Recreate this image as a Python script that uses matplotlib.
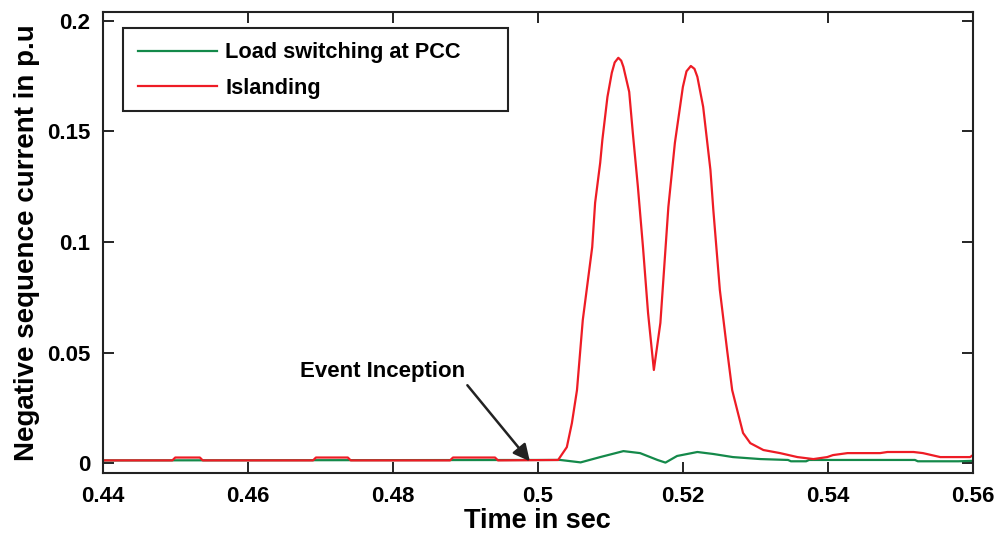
import numpy as np
import matplotlib
matplotlib.use('Agg')
import matplotlib.pyplot as plt
from matplotlib.patches import Rectangle

# data
t_island = [0.4400, 0.4496, 0.4500, 0.4534, 0.4538, 0.4690, 0.4694, 0.4738, 0.4742,
            0.4879, 0.4883, 0.4941, 0.4945, 0.5028, 0.5040, 0.5047, 0.5054, 0.5062,
            0.5075, 0.5079, 0.5086, 0.5089, 0.5096, 0.5102, 0.5106, 0.5111, 0.5115,
            0.5118, 0.5126, 0.5131, 0.5138, 0.5145, 0.5152, 0.5160, 0.5169, 0.5180,
            0.5189, 0.5200, 0.5205, 0.5211, 0.5216, 0.5220, 0.5228, 0.5238, 0.5242,
            0.5251, 0.5261, 0.5268, 0.5276, 0.5283, 0.5293, 0.5311, 0.5334, 0.5358,
            0.5380, 0.5399, 0.5407, 0.5427, 0.5472, 0.5482, 0.5518, 0.5531, 0.5555,
            0.5596, 0.5600]
i_island = [0.0012, 0.0012, 0.0025, 0.0025, 0.0012, 0.0012, 0.0025, 0.0025, 0.0012,
            0.0012, 0.0025, 0.0025, 0.0012, 0.0014, 0.0072, 0.0181, 0.0330, 0.0647,
            0.0977, 0.1177, 0.1358, 0.1462, 0.1656, 0.1765, 0.1812, 0.1833, 0.1820,
            0.1792, 0.1679, 0.1493, 0.1249, 0.0977, 0.0679, 0.0421, 0.0634, 0.1158,
            0.1448, 0.1701, 0.1772, 0.1796, 0.1783, 0.1747, 0.1611, 0.1326, 0.1145,
            0.0783, 0.0511, 0.0330, 0.0226, 0.0136, 0.0090, 0.0059, 0.0045, 0.0027,
            0.0018, 0.0027, 0.0036, 0.0045, 0.0045, 0.0050, 0.0050, 0.0045, 0.0027,
            0.0027, 0.0036]

t_load = [0.4400, 0.5031, 0.5059, 0.5086, 0.5118, 0.5141, 0.5165, 0.5176, 0.5192,
          0.5220, 0.5242, 0.5269, 0.5307, 0.5345, 0.5349, 0.5370, 0.5374, 0.5520,
          0.5524, 0.5580, 0.5600]
i_load = [0.0012, 0.0014, 0.0003, 0.0027, 0.0054, 0.0045, 0.0014, 0.0002, 0.0032,
          0.0050, 0.0041, 0.0027, 0.0018, 0.0014, 0.0008, 0.0008, 0.0014, 0.0014,
          0.0008, 0.0008, 0.0010]

xticks = [0.44, 0.46, 0.48, 0.5, 0.52, 0.54, 0.56]
xlabels = ['0.44', '0.46', '0.48', '0.5', '0.52', '0.54', '0.56']
yticks = [0, 0.05, 0.1, 0.15, 0.2]
ylabels = ['0', '0.05', '0.1', '0.15', '0.2']

plt.rcParams['font.family'] = ['Liberation Sans', 'DejaVu Sans']
plt.rcParams['font.weight'] = 'bold'

fig = plt.figure(figsize=(10.02, 5.42), dpi=100)
ax = fig.add_axes([0.1025, 0.1273, 0.8685, 0.8505])

ax.plot(t_load, i_load, color='#14894a', lw=1.6, label='Load switching at PCC')
ax.plot(t_island, i_island, color='#ee1c25', lw=1.6, label='Islanding')

ax.set_xlim(0.44, 0.56)
ax.set_ylim(-0.0045, 0.204)
ax.set_xticks(xticks)
ax.set_xticklabels(xlabels)
ax.set_yticks(yticks)
ax.set_yticklabels(ylabels)
ax.tick_params(direction='in', length=8, width=1.2, top=True, right=True,
               labelsize=16, pad=9)
for s in ax.spines.values():
    s.set_linewidth(1.5)
    s.set_color('#222222')

ax.set_xlabel('Time in sec', fontsize=19.5, fontweight='bold', labelpad=1)
ax.set_ylabel('Negative sequence current in p.u', fontsize=20, fontweight='bold', labelpad=5)

ax.annotate('Event Inception', xy=(0.4989, 0.0008), xytext=(0.4672, 0.0412),
            fontsize=16, fontweight='bold', va='center', ha='left',
            arrowprops=dict(arrowstyle='-|>', color='#222222', lw=1.8,
                            mutation_scale=25, shrinkA=0, shrinkB=0,
                            relpos=(1.0, 0.0)))

# MATLAB-style legend: box drawn separately, wider than its contents
leg = ax.legend(loc='upper left', bbox_to_anchor=(0.0406, 0.934), borderaxespad=0,
                fontsize=15.7, handlelength=3.6, handletextpad=0.4, frameon=False,
                borderpad=0, labelspacing=0.66)
ax.add_patch(Rectangle((0.0233, 0.7852), 0.4424, 0.1801, transform=ax.transAxes,
                       fill=False, edgecolor='#222222', lw=1.5, zorder=5))

fig.savefig('out.png', dpi=100)
